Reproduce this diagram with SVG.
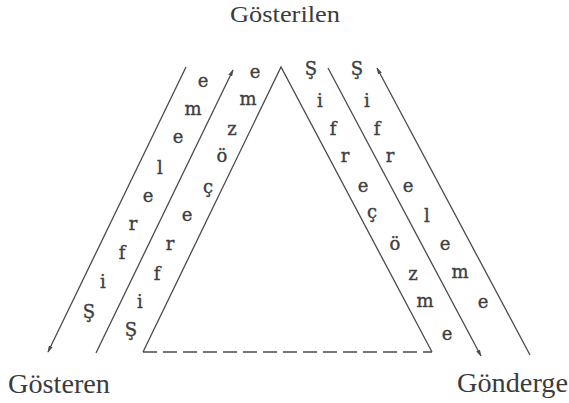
<svg xmlns="http://www.w3.org/2000/svg" width="569" height="403" viewBox="0 0 569 403">
<style>
.lbl{font-family:"Liberation Serif","Times New Roman",serif;fill:#3b3b3b}
.ch{font-family:"DejaVu Serif","Liberation Serif",serif;font-size:18px;fill:#404040;stroke:#404040;stroke-width:0.35;text-anchor:middle}
.ln{stroke:#4a4a4a;stroke-width:1.3;fill:none}
</style>
<defs>
<marker id="ah" viewBox="0 0 10 6" refX="9" refY="3" markerWidth="7" markerHeight="4.5" markerUnits="userSpaceOnUse" orient="auto">
<path d="M0,0 L10,3 L0,6 z" fill="#4a4a4a"/>
</marker>
</defs>
<rect width="569" height="403" fill="#ffffff"/>
<g id="gosterilen"><text class="lbl" x="230" y="22" font-size="23" textLength="110" lengthAdjust="spacingAndGlyphs">Gösterilen</text></g>
<g id="gosteren"><text class="lbl" x="8" y="393" font-size="27" textLength="102" lengthAdjust="spacingAndGlyphs">Gösteren</text></g>
<g id="gonderge"><text class="lbl" x="457" y="392" font-size="27" textLength="111" lengthAdjust="spacingAndGlyphs">Gönderge</text></g>
<g id="triangle">
<path class="ln" d="M143,352 L281,67 L432,352"/>
<path class="ln" d="M143,352 H432" stroke-dasharray="14 6"/>
</g>
<g id="connectors">
<line class="ln" x1="186" y1="67" x2="48" y2="352" marker-end="url(#ah)"/>
<line class="ln" x1="96" y1="353" x2="233" y2="70" marker-end="url(#ah)"/>
<line class="ln" x1="328" y1="68" x2="481" y2="356" marker-end="url(#ah)"/>
<line class="ln" x1="530" y1="355" x2="377" y2="68" marker-end="url(#ah)"/>
</g>
<g id="left-outer" class="ch">
<text x="89" y="318">Ş</text>
<text x="103" y="288">i</text>
<text x="122" y="258.5">f</text>
<text x="133" y="229.5">r</text>
<text x="148" y="201.5">e</text>
<text x="160" y="173.5">l</text>
<text x="178" y="142.5">e</text>
<text x="193" y="114.5">m</text>
<text x="203" y="86.5">e</text>
</g>
<g id="left-inner" class="ch">
<text x="131" y="336">Ş</text>
<text x="140" y="308">i</text>
<text x="157" y="279.5">f</text>
<text x="170" y="249.5">r</text>
<text x="187" y="220.5">e</text>
<text x="208" y="193">ç</text>
<text x="222" y="162">ö</text>
<text x="232" y="134.5">z</text>
<text x="248" y="104.5">m</text>
<text x="255" y="77.5">e</text>
</g>
<g id="right-inner" class="ch">
<text x="311" y="75">Ş</text>
<text x="320" y="107">i</text>
<text x="333" y="134.5">f</text>
<text x="345" y="161.5">r</text>
<text x="363" y="191.5">e</text>
<text x="372" y="218">ç</text>
<text x="395" y="250">ö</text>
<text x="413" y="279.5">z</text>
<text x="425" y="306.5">m</text>
<text x="447" y="339.5">e</text>
</g>
<g id="right-outer" class="ch">
<text x="357" y="75">Ş</text>
<text x="367" y="107">i</text>
<text x="377" y="134.5">f</text>
<text x="390" y="161.5">r</text>
<text x="408" y="191.5">e</text>
<text x="427" y="221.5">l</text>
<text x="445" y="249.5">e</text>
<text x="460" y="277.5">m</text>
<text x="483" y="307.5">e</text>
</g>
</svg>
